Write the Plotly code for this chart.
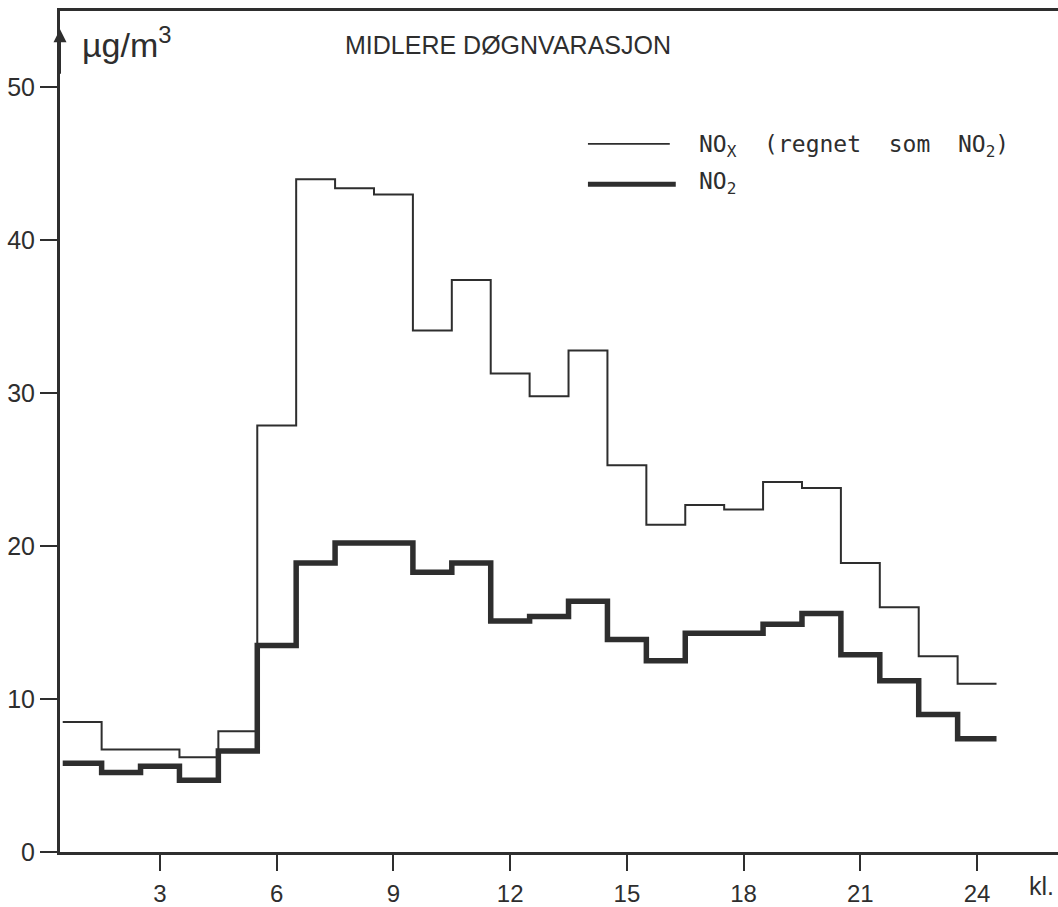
import plotly.graph_objects as go

# mean hourly values (kl. 1-24), ug/m3
hours = list(range(1, 25))
nox = [8.5, 6.7, 6.7, 6.2, 7.9, 27.9, 44.0, 43.4, 43.0, 34.1, 37.4, 31.3,
       29.8, 32.8, 25.3, 21.4, 22.7, 22.4, 24.2, 23.8, 18.9, 16.0, 12.8, 11.0]
no2 = [5.8, 5.2, 5.6, 4.7, 6.6, 13.5, 18.9, 20.2, 20.2, 18.3, 18.9, 15.1,
       15.4, 16.4, 13.9, 12.5, 14.3, 14.3, 14.9, 15.6, 12.9, 11.2, 9.0, 7.4]

x_ticks = [3, 6, 9, 12, 15, 18, 21, 24]
y_ticks = [0, 10, 20, 30, 40, 50]

ink = "#2e2e2e"
font_main = "Liberation Sans, Arial, sans-serif"
font_legend = "DejaVu Sans Mono, Liberation Mono, monospace"


def step_xy(values):
    # each hour is drawn as a flat step from h-0.5 to h+0.5
    xs = [h - 0.5 for h in hours] + [hours[-1] + 0.5]
    ys = list(values) + [values[-1]]
    return xs, ys


fig = go.Figure()

x_nox, y_nox = step_xy(nox)
fig.add_trace(go.Scatter(x=x_nox, y=y_nox, mode="lines", line_shape="hv",
                         line=dict(color=ink, width=2),
                         name="NOx (regnet som NO2)", showlegend=False))

x_no2, y_no2 = step_xy(no2)
fig.add_trace(go.Scatter(x=x_no2, y=y_no2, mode="lines", line_shape="hv",
                         line=dict(color=ink, width=5.5),
                         name="NO2", showlegend=False))

# hand-drawn style legend
fig.add_shape(type="line", xref="paper", yref="paper",
              x0=0.529, x1=0.611, y0=0.842, y1=0.842,
              line=dict(color=ink, width=1.6))
fig.add_shape(type="line", xref="paper", yref="paper",
              x0=0.529, x1=0.617, y0=0.794, y1=0.794,
              line=dict(color=ink, width=5))
fig.add_annotation(xref="paper", yref="paper", x=0.638, y=0.840,
                   xanchor="left", yanchor="middle", showarrow=False,
                   text="NO<sub>X</sub>  (regnet  som  NO<sub>2</sub>)",
                   font=dict(family=font_legend, size=23, color=ink))
fig.add_annotation(xref="paper", yref="paper", x=0.638, y=0.796,
                   xanchor="left", yanchor="middle", showarrow=False,
                   text="NO<sub>2</sub>",
                   font=dict(family=font_legend, size=23, color=ink))

# title and unit
fig.add_annotation(xref="paper", yref="paper", x=0.284, y=0.960,
                   xanchor="left", yanchor="middle", showarrow=False,
                   text="MIDLERE DØGNVARASJON",
                   font=dict(family=font_main, size=25, color=ink))
fig.add_annotation(xref="paper", yref="paper", x=0.020, y=0.962,
                   xanchor="left", yanchor="middle", showarrow=False,
                   text="µg/m<sup>3</sup>",
                   font=dict(family=font_main, size=34, color=ink))
fig.add_annotation(xref="paper", yref="paper", x=0.998, y=-0.041,
                   xanchor="right", yanchor="middle", showarrow=False,
                   text="kl.",
                   font=dict(family=font_main, size=25, color=ink))

# arrow on top of the y axis
fig.add_annotation(xref="x", yref="y", x=0.43, y=53.8, ax=0.43, ay=50.8,
                   axref="x", ayref="y", showarrow=True, arrowhead=2,
                   arrowsize=1.3, arrowwidth=2, arrowcolor=ink, text="")

fig.update_layout(
    width=1058, height=907,
    margin=dict(l=60, r=0, t=11, b=50),
    paper_bgcolor="white", plot_bgcolor="white",
    font=dict(family=font_main, size=24, color=ink),
)
fig.update_xaxes(range=[0.43, 26.08], tickvals=x_ticks, ticks="outside",
                 ticklen=16, tickwidth=2, tickcolor=ink,
                 showline=True, linewidth=3, linecolor=ink, mirror=True,
                 showgrid=False, zeroline=False, ticklabelstandoff=2,
                 tickfont=dict(size=24))
fig.update_yaxes(range=[0, 55], tickvals=y_ticks, ticks="outside",
                 ticklen=17, tickwidth=2, tickcolor=ink,
                 showline=True, linewidth=3, linecolor=ink,
                 showgrid=False, zeroline=False, ticklabelstandoff=0,
                 tickfont=dict(size=25))

# the page's default body margin would push the figure off the window
fig.write_html("out.html", config={"displayModeBar": False},
               post_script="document.body.style.margin='0';")
